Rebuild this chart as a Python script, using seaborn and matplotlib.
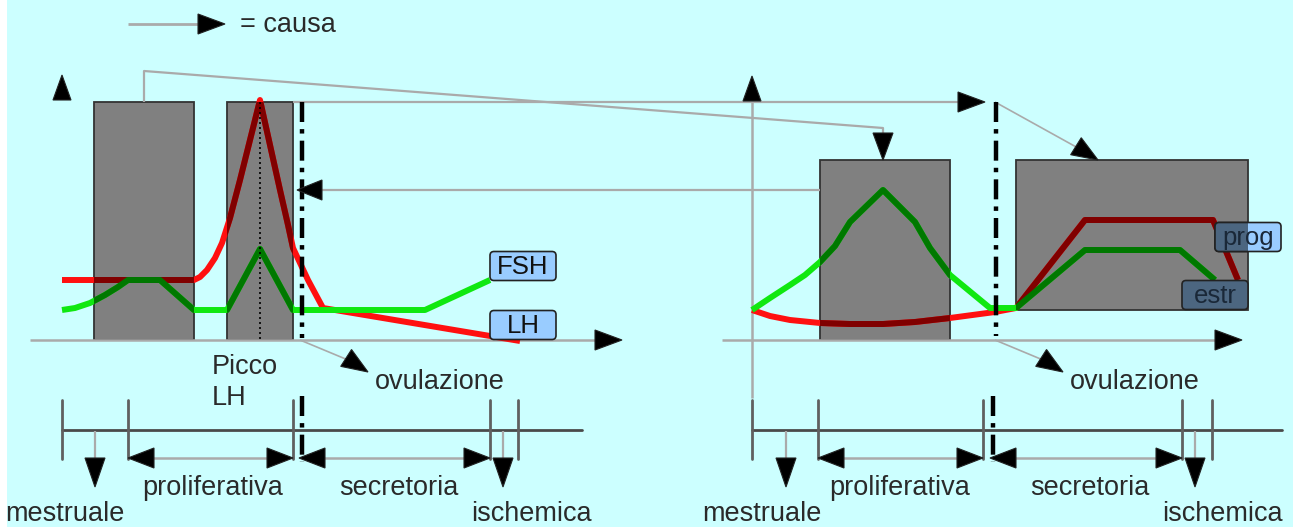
import numpy as np
import pandas as pd
import matplotlib
matplotlib.use("Agg")
import matplotlib.pyplot as plt
from matplotlib.patches import Rectangle, Polygon, FancyBboxPatch
import seaborn as sns

sns.set_theme(style="white")
plt.rcParams["font.family"] = ["Liberation Sans", "DejaVu Sans"]

# ---- hormone curves (x, y in drawing units, y grows downwards) ----
lh_left_x = [62, 194, 200, 207, 215, 222, 230, 240, 250, 260, 270, 280, 288, 293, 308, 323, 520]
lh_left_y = [280, 280, 277, 270, 258, 243, 218, 180, 140, 100, 145, 190, 225, 248, 280, 308, 341]
fsh_left_x = [62, 75, 90, 105, 118, 128, 160, 194, 227, 260, 293, 425, 490]
fsh_left_y = [310, 308, 303, 295, 287, 280, 280, 310, 310, 249, 310, 310, 280]

estr_right_x = [752, 770, 790, 805, 820, 835, 850, 883, 915, 930, 950, 990, 1016, 1085, 1180, 1215]
estr_right_y = [310, 298, 285, 275, 262, 246, 222, 190, 222, 248, 275, 308, 308, 250, 250, 280]
prog_right_x = [752, 770, 790, 820, 850, 883, 915, 950, 995, 1016, 1085, 1213, 1238]
prog_right_y = [310, 316, 320, 323, 324, 324, 322, 318, 312, 308, 220, 220, 280]

# ---- text ----
label_fsh, label_lh = "FSH", "LH"
label_prog, label_estr = "prog", "estr"
phase_labels = ["mestruale", "proliferativa", "secretoria", "ischemica"]
ovulation_label = "ovulazione"
legend_label = "= causa"

BG = "#ccffff"
GRAY_LINE = "#aaaaaa"
TXT = "#2a2a2a"
BRIGHT_RED, DARK_RED = "#ff1010", "#800000"
BRIGHT_GREEN, DARK_GREEN = "#10e810", "#007800"
BOX_BLUE, BOX_BLUE_DARK = "#99ccff", "#4c6680"
FS = 19.5

fig = plt.figure(figsize=(12.93, 5.27), dpi=100, facecolor="white")
ax = fig.add_axes([0, 0, 1, 1])
ax.set_xlim(0, 1293)
ax.set_ylim(527, 0)
ax.axis("off")
ax.add_patch(Rectangle((7, 0), 1286, 527, facecolor=BG, edgecolor="none", zorder=0))


def tri(tip, direction, length=27, width=20, z=6):
    tx, ty = tip
    dx, dy = direction
    n = np.hypot(dx, dy)
    dx, dy = dx / n, dy / n
    bx, by = tx - dx * length, ty - dy * length
    px, py = -dy, dx
    pts = [(tx, ty), (bx + px * width / 2, by + py * width / 2), (bx - px * width / 2, by - py * width / 2)]
    ax.add_patch(Polygon(pts, closed=True, facecolor="black", edgecolor="#222222", lw=0.8, zorder=z))


def gline(xs, ys, color=GRAY_LINE, lw=1.6, z=2, **kw):
    ax.plot(xs, ys, color=color, lw=lw, zorder=z, solid_capstyle="butt", **kw)


def curve(xs, ys, color, z, clip=None, lw=4.3):
    df = pd.DataFrame({"x": xs, "y": ys, "i": range(len(xs))})
    n0 = len(ax.lines)
    sns.lineplot(data=df, x="x", y="y", sort=False, estimator=None, color=color,
                 lw=lw, ax=ax, zorder=z, legend=False)
    for ln in ax.lines[n0:]:
        ln.set_solid_joinstyle("round")
        ln.set_solid_capstyle("butt")
        if clip is not None:
            ln.set_clip_path(clip)


# ---- legend arrow ----
gline([128, 200], [24, 24], lw=2)
tri((225, 24), (1, 0))
ax.text(240, 25, legend_label, fontsize=FS, color=TXT, va="center", ha="left")

# ---- gray boxes ----
rects = {
    "r1": (94, 102, 100, 238),
    "r2": (227, 102, 66, 238),
    "r3": (820, 160, 130, 180),
    "r4": (1016, 160, 232, 150),
}
patches = {}
for k, (x, y, w, h) in rects.items():
    p = Rectangle((x, y), w, h, facecolor="#808080", edgecolor="#333333", lw=1.3, zorder=1)
    ax.add_patch(p)
    patches[k] = p

# ---- axes of the two panels ----
gline([30, 598], [340, 340], lw=1.8)
tri((622, 340), (1, 0))
tri((62, 75), (0, -1), length=25, width=18)

gline([752, 752], [100, 398], lw=1.8)
tri((752, 76), (0, -1), length=25, width=18)
gline([722, 1218], [340, 340], lw=1.8)
tri((1242, 340), (1, 0))

# ---- causal links ----
gline([144, 144, 883, 883], [102, 71, 128, 134])
tri((883, 160), (0, 1), length=27, width=20)
gline([293, 960], [102, 102])
tri((985, 102), (1, 0), length=27, width=20)
gline([995, 1078], [102, 148], lw=1.2)
tri((1098, 160), (1.2, 0.75), length=26, width=20)
gline([320, 820], [190, 190])
tri((297, 190), (-1, 0), length=25, width=20)

# ovulation pointers
for x0 in (300, 995):
    gline([x0, x0 + 48], [340, 360], lw=1.2)
    tri((x0 + 68, 372), (1.4, 0.9), length=26, width=20)

# ---- hormone curves: bright outside the boxes, darkened inside ----
curve(lh_left_x, lh_left_y, BRIGHT_RED, 3)
curve(fsh_left_x, fsh_left_y, BRIGHT_GREEN, 3)
curve(prog_right_x, prog_right_y, BRIGHT_RED, 3)
curve(estr_right_x, estr_right_y, BRIGHT_GREEN, 3)
for k in ("r1", "r2"):
    curve(lh_left_x, lh_left_y, DARK_RED, 4, clip=patches[k])
    curve(fsh_left_x, fsh_left_y, DARK_GREEN, 4, clip=patches[k])
for k in ("r3", "r4"):
    curve(prog_right_x, prog_right_y, DARK_RED, 4, clip=patches[k])
    curve(estr_right_x, estr_right_y, DARK_GREEN, 4, clip=patches[k])

# peak marker and ovulation lines
ax.plot([260, 260], [102, 340], color="black", lw=1.2, ls=(0, (1.2, 1.8)), zorder=5)
dashdot = (0, (4.5, 1.6, 1.0, 1.6))
ax.plot([302, 302], [102, 338], color="black", lw=3.2, ls=dashdot, zorder=5)
ax.plot([996, 996], [102, 336], color="black", lw=3.2, ls=dashdot, zorder=5)


# ---- hormone labels ----
def label_box(cx, cy, text, face, w=66, h=29, clip=None, textcolor="#111111", z=6):
    b = FancyBboxPatch((cx - w / 2 + 4, cy - h / 2 + 4), w - 8, h - 8,
                       boxstyle="round,pad=4", facecolor=face, edgecolor="#222222",
                       lw=1.2, zorder=z)
    ax.add_patch(b)
    if clip is not None:
        b.set_clip_path(clip)
    if text:
        ax.text(cx, cy + 1, text, fontsize=18.5, color=textcolor, ha="center", va="center", zorder=z + 1)


label_box(523, 266, label_fsh, BOX_BLUE)
label_box(523, 325, label_lh, BOX_BLUE)
label_box(1248, 237, "", BOX_BLUE)
label_box(1248, 237, "", BOX_BLUE_DARK, clip=patches["r4"])
ax.text(1248, 238, label_prog, fontsize=18.5, color="#1a2838", ha="center", va="center", zorder=8)
label_box(1215, 295, label_estr, BOX_BLUE_DARK, textcolor="#1a2838")

# ---- text under the panels ----
ax.text(212, 367, "Picco", fontsize=FS, color=TXT, ha="left", va="center")
ax.text(212, 398, "LH", fontsize=FS, color=TXT, ha="left", va="center")
ax.text(440, 382, ovulation_label, fontsize=FS, color=TXT, ha="center", va="center")
ax.text(1135, 382, ovulation_label, fontsize=FS, color=TXT, ha="center", va="center")


# ---- phase timelines ----
def timeline(x0, ticks, x_end, mens_x, isch_x, ovx, texts_x):
    TL = "#4a4a4a"
    ax.plot([x0, x_end], [430, 430], color=TL, lw=2, zorder=2)
    for t in ticks:
        ax.plot([t, t], [400, 459], color="#606060", lw=2, zorder=2)
    for xa in (mens_x, isch_x):
        gline([xa, xa], [431, 458], lw=1.6)
        tri((xa, 487), (0, 1), length=29, width=20)
    # proliferative span
    gline([ticks[1] + 20, ticks[2] - 20], [458, 458], lw=1.8)
    tri((ticks[1], 458), (-1, 0), length=26, width=20)
    tri((ticks[2], 458), (1, 0), length=26, width=20)
    # secretory span
    gline([ovx + 20, ticks[3] - 20], [458, 458], lw=1.8)
    tri((ovx - 2, 458), (-1, 0), length=26, width=20)
    tri((ticks[3], 458), (1, 0), length=26, width=20)
    ax.plot([ovx + 1, ovx + 1], [396, 462], color="black", lw=3.2, ls=dashdot, zorder=7)
    ys = [514, 488, 488, 514]
    for txt, tx, ty in zip(phase_labels, texts_x, ys):
        ax.text(tx, ty, txt, fontsize=FS, color=TXT, ha="center", va="center")


timeline(62, [62, 128, 293, 490, 518], 582, 95, 503, 301, [65, 213, 399, 531])
timeline(752, [752, 818, 983, 1182, 1212], 1282, 786, 1195, 992, [762, 900, 1090, 1222])

fig.savefig("out.png", dpi=100, facecolor="white")
